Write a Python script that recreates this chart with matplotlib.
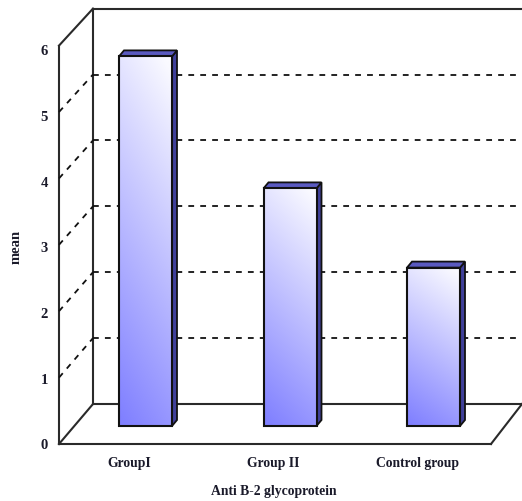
import numpy as np
import matplotlib
matplotlib.use("Agg")
import matplotlib.pyplot as plt
from matplotlib.patches import Polygon, Rectangle

categories = ["GroupI", "Group II", "Control group"]
means = [5.6, 3.6, 2.4]
y_ticks = [0, 1, 2, 3, 4, 5, 6]
y_label = "mean"
x_label = "Anti B-2 glycoprotein"

# layout of the 3d box, in pixels
W, H = 522, 502
FRONT_X, FRONT_Y = 59, 445
BACK_X, BACK_Y = 93, 405
RIGHT_FRONT_X = 491
FRONT_UNIT = 66.4
BACK_UNIT = 65.9
BAR_BASE = 427
BAR_UNIT = 66
BAR_W = 53
BAR_CENTERS = [145.5, 290, 433.5]
LABEL_CENTERS = [129, 273, 417]
DEPTH_X, DEPTH_Y = 5, 6


def front_y(v):
    return FRONT_Y - v * FRONT_UNIT


def back_y(v):
    return BACK_Y - v * BACK_UNIT


def bar_y(v):
    return BAR_BASE - v * BAR_UNIT


fig = plt.figure(figsize=(W / 100, H / 100), dpi=100)
ax = fig.add_axes([0, 0, 1, 1])
ax.set_xlim(0, W)
ax.set_ylim(H, 0)
ax.axis("off")

line = dict(color="#2a2a2a", lw=1.5, solid_capstyle="projecting", zorder=2)
dash = dict(color="#111111", lw=1.3, dashes=(3.2, 3.4), zorder=2)
label = dict(ha="center", va="center", family="Liberation Serif", weight="bold",
             color="#1a1a2a")

top = max(y_ticks)
# walls and floor
ax.plot([FRONT_X, FRONT_X], [front_y(0), front_y(top)], **line)
ax.plot([BACK_X, BACK_X], [back_y(0), back_y(top)], **line)
ax.plot([FRONT_X, BACK_X], [front_y(top), back_y(top)], **line)
ax.plot([BACK_X, W], [back_y(top), back_y(top)], **line)
ax.plot([FRONT_X, BACK_X], [front_y(0), back_y(0)], **line)
ax.plot([BACK_X, W], [back_y(0), back_y(0)], **line)
ax.plot([FRONT_X, RIGHT_FRONT_X], [front_y(0), front_y(0)], **line)
ax.plot([RIGHT_FRONT_X, W], [front_y(0), back_y(0)], **line)

# dashed grid on side and back wall
for v in y_ticks[1:-1]:
    ax.plot([FRONT_X, BACK_X], [front_y(v), back_y(v)], **dash)
    ax.plot([BACK_X, W], [back_y(v), back_y(v)], **dash)

for v in y_ticks:
    ax.text(44, 446 - v * 65.7, str(v), fontsize=10.5, **label)

# diagonal fill, pale at top right and saturated at bottom left
gx, gy = np.meshgrid(np.linspace(0, 1, 60), np.linspace(0, 1, 200))
grad = np.clip(0.85 * gy + 0.2 * (1 - gx) - 0.03, 0, 1)
pale = np.array([250, 250, 255]) / 255
deep = np.array([128, 128, 255]) / 255
face_img = pale + (deep - pale) * grad[..., None]

for cx, lx, m, name in zip(BAR_CENTERS, LABEL_CENTERS, means, categories):
    x0, x1 = cx - BAR_W / 2, cx + BAR_W / 2
    yt = bar_y(m)
    # right side
    ax.add_patch(Polygon([(x1, yt), (x1 + DEPTH_X, yt - DEPTH_Y),
                          (x1 + DEPTH_X, BAR_BASE - DEPTH_Y), (x1, BAR_BASE)],
                         fc="#40409a", ec="#111111", lw=1.3, zorder=4))
    # top
    ax.add_patch(Polygon([(x0, yt), (x0 + DEPTH_X, yt - DEPTH_Y),
                          (x1 + DEPTH_X, yt - DEPTH_Y), (x1, yt)],
                         fc="#5a5ac0", ec="#111111", lw=1.3, zorder=4))
    ax.imshow(face_img, extent=(x0, x1, BAR_BASE, yt), aspect="auto", zorder=5,
              interpolation="bilinear")
    ax.add_patch(Rectangle((x0, yt), BAR_W, BAR_BASE - yt, fc="none",
                           ec="#111111", lw=1.5, zorder=6))
    ax.text(lx, 464, name, fontsize=9.8, **label)

# imshow resets the limits
ax.set_xlim(0, W)
ax.set_ylim(H, 0)

ax.text(16, 247, y_label, rotation=90, fontsize=10.5, **label)
ax.text(274, 492, x_label, fontsize=9.8, **label)

fig.savefig("out.png", dpi=100)
